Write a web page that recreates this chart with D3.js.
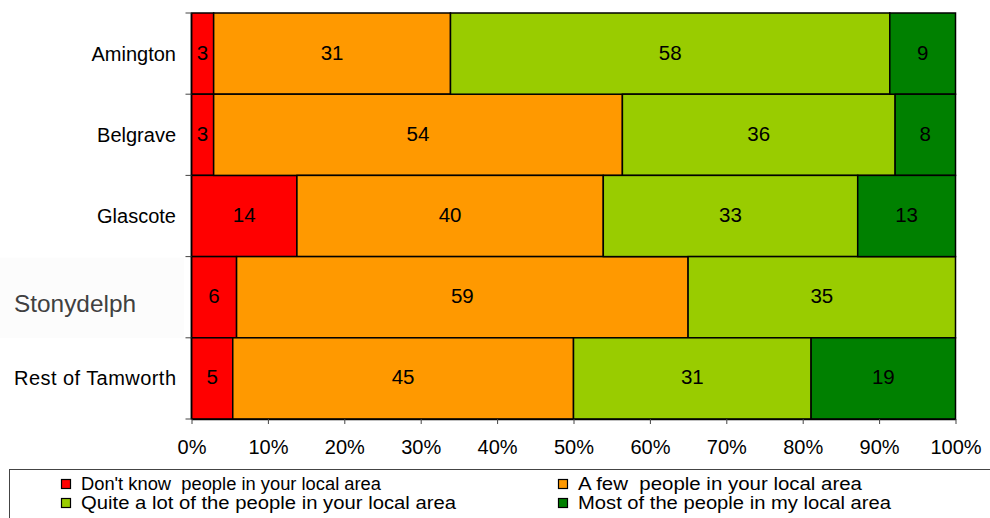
<!DOCTYPE html>
<html>
<head>
<meta charset="utf-8">
<script src="https://cdn.jsdelivr.net/npm/d3@7"></script>
<style>
  html, body { margin: 0; padding: 0; background: #fff; }
  svg { display: block; }
  text { font-family: "Liberation Sans", Arial, sans-serif; }
</style>
</head>
<body>
<svg id="chart" width="990" height="518"></svg>
<script>
// ---- Data ----
const categories = ["Amington", "Belgrave", "Glascote", "Stonydelph", "Rest of Tamworth"];
const seriesNames = [
  "Don't know  people in your local area",
  "A few  people in your local area",
  "Quite a lot of the people in your local area",
  "Most of the people in my local area"
];
const dontKnow   = [2.9, 2.9, 13.8, 5.9, 5.4];
const aFew       = [31.0, 53.5, 40.1, 59.1, 44.6];
const quiteALot  = [57.5, 35.7, 33.3, 35.0, 31.1];
const mostPeople = [8.6, 7.9, 12.8, 0, 18.9];
const tickLabels = ["0%", "10%", "20%", "30%", "40%", "50%", "60%", "70%", "80%", "90%", "100%"];
const colors = ["#ff0000", "#ff9900", "#99cc00", "#008000"];

(function () {
  // ---- Build table ----
  const keys = ["k0", "k1", "k2", "k3"];
  const seriesArrays = [dontKnow, aFew, quiteALot, mostPeople];
  const table = categories.map((c, i) => {
    const row = { cat: c };
    keys.forEach((k, j) => row[k] = seriesArrays[j][i]);
    return row;
  });
  const stacked = d3.stack().keys(keys).offset(d3.stackOffsetExpand)(table);

  const svg = d3.select("#chart");
  const pL = 191.5, pR = 955.5, pT = 13, pB = 419;
  const FS = 20;

  const x = d3.scaleLinear().domain([0, 1]).range([pL, pR]);
  const y = d3.scaleBand().domain(categories).range([pT, pB]).padding(0);

  // faint background behind the pasted Stonydelph label
  svg.append("rect")
    .attr("x", 0).attr("y", y("Stonydelph") + 1)
    .attr("width", 184).attr("height", y.bandwidth() - 1)
    .attr("fill", "#fcfcfc");

  // ---- Bars ----
  const layers = svg.append("g").selectAll("g")
    .data(stacked).join("g")
    .attr("fill", (d, i) => colors[i]);

  layers.selectAll("rect")
    .data(d => d.filter(v => v[1] - v[0] > 0))
    .join("rect")
    .attr("x", v => x(v[0]))
    .attr("y", v => y(v.data.cat))
    .attr("width", v => x(v[1]) - x(v[0]))
    .attr("height", y.bandwidth())
    .attr("stroke", "#000")
    .attr("stroke-width", 1.5);

  // ---- Data labels ----
  const lab = svg.append("g");
  stacked.forEach((layer, si) => {
    layer.forEach((v, ci) => {
      const raw = seriesArrays[si][ci];
      if (raw <= 0) return;
      lab.append("text")
        .attr("x", (x(v[0]) + x(v[1])) / 2)
        .attr("y", y(v.data.cat) + y.bandwidth() / 2 + 6)
        .attr("text-anchor", "middle")
        .attr("font-size", 20.5)
        .attr("fill", "#000")
        .text(Math.round(raw));
    });
  });

  // ---- Left axis (ticks at band boundaries) ----
  const yAxisG = svg.append("g");
  yAxisG.append("line")
    .attr("x1", pL).attr("x2", pL)
    .attr("y1", pT).attr("y2", pB)
    .attr("stroke", "#000").attr("stroke-width", 1.5);
  const bounds = categories.map(c => y(c)).concat([y.range()[1]]);
  yAxisG.selectAll("line.tk").data(bounds).join("line")
    .attr("class", "tk")
    .attr("x1", pL - 6).attr("x2", pL)
    .attr("y1", d => d).attr("y2", d => d)
    .attr("stroke", "#444").attr("stroke-width", 1);

  // Category labels
  categories.forEach(c => {
    const cy = y(c) + y.bandwidth() / 2;
    if (c === "Stonydelph") {
      svg.append("text")
        .attr("x", 14).attr("y", cy + 15)
        .attr("font-family", "'DejaVu Sans Mono', monospace")
        .attr("font-size", 24)
        .attr("fill", "#404040")
        .attr("textLength", 122)
        .attr("lengthAdjust", "spacingAndGlyphs")
        .text(c);
    } else {
      const t = svg.append("text")
        .attr("x", 176).attr("y", cy + 7)
        .attr("text-anchor", "end")
        .attr("font-size", FS)
        .attr("fill", "#000")
        .text(c);
      if (c === "Rest of Tamworth") {
        t.attr("x", 14).attr("text-anchor", "start")
         .attr("textLength", 162).attr("lengthAdjust", "spacing");
      }
    }
  });

  // ---- Bottom axis ----
  const xAxis = d3.axisBottom(x)
    .tickValues(d3.range(0, 11).map(i => i / 10))
    .tickFormat((d, i) => tickLabels[i])
    .tickSize(5)
    .tickSizeOuter(0);
  const xg = svg.append("g").attr("transform", `translate(0,${pB})`).call(xAxis);
  xg.select(".domain").attr("stroke", "#000").attr("stroke-width", 1.5);
  xg.selectAll(".tick line").attr("stroke", "#444");
  xg.selectAll(".tick text")
    .attr("y", 35).attr("dy", 0)
    .attr("font-size", FS)
    .attr("font-family", "'Liberation Sans', Arial, sans-serif")
    .attr("fill", "#000");

  // ---- Legend ----
  svg.append("rect")
    .attr("x", 9.5).attr("y", 469.5)
    .attr("width", 1000).attr("height", 100)
    .attr("fill", "#fff")
    .attr("stroke", "#444").attr("stroke-width", 1);

  const legendPos = [
    { x: 61, y: 479, w: 300 },
    { x: 558, y: 479, w: 284 },
    { x: 61, y: 498, w: 375 },
    { x: 558, y: 498, w: 313 }
  ];
  seriesNames.forEach((name, i) => {
    const p = legendPos[i];
    svg.append("rect")
      .attr("x", p.x + 0.5).attr("y", p.y + 0.5)
      .attr("width", 9).attr("height", 9)
      .attr("fill", colors[i])
      .attr("stroke", "#000").attr("stroke-width", 1.2);
    svg.append("text")
      .attr("x", p.x + 20).attr("y", p.y + 11)
      .attr("font-size", 17.5)
      .attr("fill", "#000")
      .attr("textLength", p.w)
      .attr("lengthAdjust", "spacingAndGlyphs")
      .style("white-space", "pre")
      .text(name);
  });
})();
</script>
</body>
</html>
